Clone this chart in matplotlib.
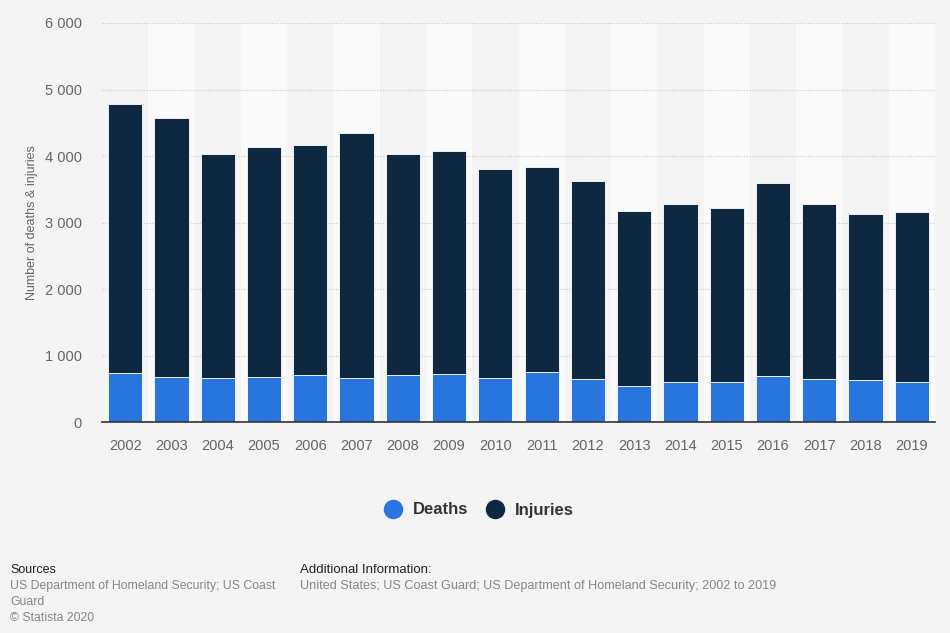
import numpy as np
import matplotlib.pyplot as plt
from matplotlib.lines import Line2D

years = [str(y) for y in range(2002, 2020)]
totals = [4783, 4568, 4027, 4132, 4167, 4347, 4032, 4077, 3806, 3836,
          3630, 3175, 3276, 3216, 3596, 3276, 3134, 3160]
deaths = [747, 686, 666, 686, 706, 666, 706, 726, 660, 756,
          655, 550, 610, 610, 696, 655, 635, 610]
injuries = [t - d for t, d in zip(totals, deaths)]

c_deaths = '#2876dd'
c_injuries = '#0f2841'
bg = '#f4f4f4'

plt.rcParams['font.family'] = ['Liberation Sans', 'DejaVu Sans']

fig = plt.figure(figsize=(9.5, 6.33), dpi=100, facecolor=bg)
ax = fig.add_axes([102 / 950, 1 - 422.3 / 633, (935 - 102) / 950, (422.3 - 23) / 633])
ax.set_facecolor(bg)

x = np.arange(len(years))
# alternating column bands
for i in x:
    if i % 2 == 1:
        ax.axvspan(i - 0.5, i + 0.5, color='#fafafa', zorder=0, lw=0)

ax.set_ylim(0, 6000)
ax.set_xlim(-0.5, len(years) - 0.5)
ax.set_yticks(range(0, 6001, 1000))
ax.set_yticklabels([f'{v:,}'.replace(',', ' ') for v in range(0, 6001, 1000)])
ax.yaxis.grid(True, linestyle=(0, (1, 1.5)), color='#c8c8c8', lw=0.8, zorder=1)
ax.set_axisbelow(True)

w = 0.74
ax.bar(x, deaths, w, color=c_deaths, edgecolor='white', linewidth=0.6, zorder=3, label='Deaths')
ax.bar(x, injuries, w, bottom=deaths, color=c_injuries, edgecolor='white', linewidth=0.6,
       zorder=3, label='Injuries')

ax.set_xticks(x)
ax.set_xticklabels(years)
for s in ['top', 'right', 'left']:
    ax.spines[s].set_visible(False)
ax.spines['bottom'].set_color('#333333')
ax.spines['bottom'].set_linewidth(1.2)
ax.spines['bottom'].set_zorder(4)
ax.tick_params(axis='both', length=0, labelsize=10.5, labelcolor='#666666')
ax.tick_params(axis='x', pad=12)
ax.tick_params(axis='y', pad=14.5)
ax.set_ylabel('Number of deaths & injuries', fontsize=9, color='#666666', labelpad=5)

# legend
handles = [Line2D([], [], marker='o', ls='', markersize=13, color=c_deaths),
           Line2D([], [], marker='o', ls='', markersize=13, color=c_injuries)]
leg = fig.legend(handles, ['Deaths', 'Injuries'], loc='center', bbox_to_anchor=(0.5, 1 - 510 / 633),
                 ncol=2, frameon=False, handletextpad=0.2, columnspacing=0.6,
                 prop={'size': 12, 'weight': 'bold'})
for t in leg.get_texts():
    t.set_color('#333333')

# footer
fig.text(10 / 950, 1 - 570 / 633, 'Sources', fontsize=9, color='#222222', va='center')
fig.text(10 / 950, 1 - 586 / 633, 'US Department of Homeland Security; US Coast', fontsize=8.8,
         color='#888888', va='center')
fig.text(10 / 950, 1 - 602 / 633, 'Guard', fontsize=8.8, color='#888888', va='center')
fig.text(10 / 950, 1 - 618 / 633, '© Statista 2020', fontsize=8.8, color='#888888', va='center')
fig.text(300 / 950, 1 - 570 / 633, 'Additional Information:', fontsize=9.5, color='#222222', va='center')
fig.text(300 / 950, 1 - 586 / 633,
         'United States; US Coast Guard; US Department of Homeland Security; 2002 to 2019',
         fontsize=9.1, color='#888888', va='center')

fig.savefig('out.png', dpi=100, facecolor=bg)
